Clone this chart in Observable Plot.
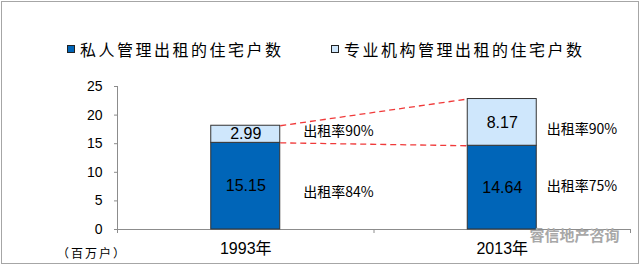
<!DOCTYPE html>
<html>
<head>
<meta charset="utf-8">
<script src="https://cdn.jsdelivr.net/npm/d3@7"></script>
<script src="https://cdn.jsdelivr.net/npm/@observablehq/plot@0.6"></script>
<style>
  html, body { margin: 0; padding: 0; background: #fff; }
  #wrap { position: relative; width: 641px; height: 267px; overflow: hidden; font-family: "Noto Sans CJK SC", "Liberation Sans", sans-serif; }
  #frame { position: absolute; left: 1px; top: 1px; width: 638px; height: 263px; box-sizing: border-box; border: 1px solid #a6a6a6; pointer-events: none; z-index: 3; }
  #chart { position: absolute; left: 0; top: 0; }
  .legend { position: absolute; top: 40px; height: 18px; display: flex; align-items: center; font-size: 16px; color: #000; z-index: 2; white-space: nowrap; }
  .sw { width: 8px; height: 8px; box-sizing: border-box; border: 1px solid #222; margin-right: 5px; }
  #unit { position: absolute; left: 57px; top: 244px; font-size: 12px; letter-spacing: 2px; color: #000; z-index: 2; }
</style>
</head>
<body>
<div id="wrap">
  <div id="chart"></div>
  <div id="leg1" class="legend" style="left:67px;letter-spacing:2.5px"></div>
  <div id="leg2" class="legend" style="left:331px;letter-spacing:2.5px"></div>
  <div id="unit"></div>
  <div id="frame"></div>
</div>
<script>
const years = ["1993年", "2013年"];
const individual = [15.15, 14.64];
const institutional = [2.99, 8.17];
const individualRate = ["出租率84%", "出租率75%"];
const institutionalRate = ["出租率90%", "出租率90%"];
const yTicks = [0, 5, 10, 15, 20, 25];
const seriesNames = ["私人管理出租的住宅户数", "专业机构管理出租的住宅户数"];
const seriesColors = ["#0065b8", "#cfe7fc"];
const unitLabel = "（百万户）";
const watermark = "睿信地产咨询";

const hw = 0.1345; // half bar width in category units
const totals = years.map((_, i) => individual[i] + institutional[i]);

const segs = years.flatMap((yr, i) => [
  {i, s: 0, series: seriesNames[0], y1: 0, y2: individual[i], value: individual[i], rate: individualRate[i], mid: individual[i] / 2},
  {i, s: 1, series: seriesNames[1], y1: individual[i], y2: totals[i], value: institutional[i], rate: institutionalRate[i], mid: individual[i] + institutional[i] / 2}
]);

const links = [
  {a: totals[0], b: totals[1]},
  {a: individual[0], b: individual[1]}
];

const rateDx = [23, 10];
const rateDy = [[6, -3], [-1, 7]]; // [year][series] small vertical nudges
const rateMarks = [];
years.forEach((_, yi) => {
  [0, 1].forEach(si => {
    rateMarks.push(Plot.text(segs.filter(d => d.i === yi && d.s === si), {
      x: d => d.i + 0.5 + hw,
      y: "mid",
      text: "rate",
      textAnchor: "start",
      dx: rateDx[yi],
      dy: rateDy[yi][si],
      fontSize: 14,
      fill: "#000",
      fontFamily: "Noto Sans CJK SC, Liberation Sans"
    }));
  });
});

const plot = Plot.plot({
  width: 641,
  height: 267,
  marginLeft: 117,
  marginRight: 11,
  marginTop: 86,
  marginBottom: 38,
  style: {background: "transparent", fontFamily: "Liberation Sans, Arial, sans-serif", color: "#000"},
  x: {type: "linear", domain: [0, years.length], axis: null},
  y: {domain: [0, 25], axis: null},
  color: {domain: seriesNames, range: seriesColors},
  marks: [
    Plot.axisY({ticks: yTicks, tickSize: 3, tickPadding: 12, fontSize: 14, stroke: "#8c8c8c", fill: "#000", label: null}),
    Plot.axisX({ticks: d3.range(years.length + 1), tickSize: 4, tickFormat: () => "", stroke: "#8c8c8c", label: null}),
    Plot.ruleX([0], {stroke: "#8c8c8c"}),
    Plot.ruleY([0], {stroke: "#8c8c8c"}),
    Plot.rectY(segs, {
      x1: d => d.i + 0.5 - hw,
      x2: d => d.i + 0.5 + hw,
      y1: "y1",
      y2: "y2",
      fill: "series",
      stroke: "#333",
      strokeWidth: 1
    }),
    Plot.link(links, {
      x1: () => 0.5 + hw,
      y1: "a",
      x2: () => 1.5 - hw,
      y2: "b",
      stroke: "#f03a3a",
      strokeWidth: 1.3,
      strokeDasharray: "6,4"
    }),
    Plot.text(segs, {
      x: d => d.i + 0.5,
      y: "mid",
      text: d => d.value.toFixed(2),
      fontSize: 16,
      fill: "#000",
      style: "letter-spacing:1px"
    }),
    ...rateMarks,
    Plot.text(years, {
      x: (d, i) => i + 0.5,
      frameAnchor: "bottom",
      dy: 24,
      text: d => d,
      fontSize: 16,
      fill: "#000",
      fontFamily: "Liberation Sans, Noto Sans CJK SC"
    }),
    Plot.text([watermark], {
      frameAnchor: "bottom-right",
      dx: -11,
      dy: 11,
      text: d => d,
      fontSize: 15,
      fill: "#a8a8a8",
      fontWeight: "bold",
      fontFamily: "Noto Sans CJK SC"
    })
  ]
});
document.getElementById("chart").appendChild(plot);

["leg1", "leg2"].forEach((id, k) => {
  const el = document.getElementById(id);
  const sw = document.createElement("span");
  sw.className = "sw";
  sw.style.background = seriesColors[k];
  el.appendChild(sw);
  const t = document.createElement("span");
  t.textContent = seriesNames[k];
  el.appendChild(t);
});
document.getElementById("unit").textContent = unitLabel;
</script>
</body>
</html>
